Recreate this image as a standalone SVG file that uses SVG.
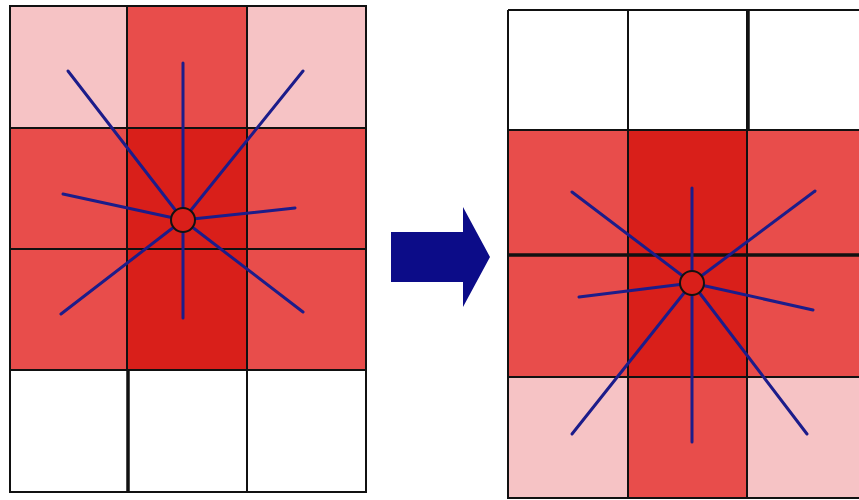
<svg xmlns="http://www.w3.org/2000/svg" width="859" height="500" viewBox="0 0 859 500">
<style>
.pink{fill:#f6c3c5}
.red{fill:#e84d4b}
.dark{fill:#d91f1a}
.white{fill:#ffffff}
.grid{stroke:#111;stroke-width:2;fill:none}
.thick{stroke:#111;stroke-width:3.5;fill:none}
.ray{stroke:#1c1c8a;stroke-width:3;stroke-linecap:round}
.hub{fill:#d91f1a;stroke:#111;stroke-width:2}
</style>
<rect width="859" height="500" fill="#fff"/>
<g id="left-grid">
<rect class="pink" x="10" y="6" width="117" height="122"/>
<rect class="red" x="127" y="6" width="120" height="122"/>
<rect class="pink" x="247" y="6" width="119" height="122"/>
<rect class="red" x="10" y="128" width="117" height="242"/>
<rect class="dark" x="127" y="128" width="120" height="242"/>
<rect class="red" x="247" y="128" width="119" height="242"/>
<rect class="white" x="10" y="370" width="356" height="122"/>
<path class="grid" d="M10 6H366V492H10Z M127 6V370 M247 6V492 M10 128H366 M10 249H366 M10 370H366"/>
<path class="thick" d="M128 370V492"/>
</g>
<g id="left-rays">
<line class="ray" x1="183" y1="220" x2="68" y2="71"/>
<line class="ray" x1="183" y1="220" x2="183" y2="63"/>
<line class="ray" x1="183" y1="220" x2="303" y2="71"/>
<line class="ray" x1="183" y1="220" x2="63" y2="194"/>
<line class="ray" x1="183" y1="220" x2="295" y2="208"/>
<line class="ray" x1="183" y1="220" x2="61" y2="314"/>
<line class="ray" x1="183" y1="220" x2="183" y2="318"/>
<line class="ray" x1="183" y1="220" x2="303" y2="312"/>
<circle class="hub" cx="183" cy="220" r="12"/>
</g>
<g id="arrow">
<polygon points="391,232 463,232 463,207 490,257 463,307 463,282 391,282" fill="#0c0c88"/>
</g>
<g id="right-grid">
<rect class="white" x="508" y="10" width="360" height="120"/>
<rect class="red" x="508" y="130" width="120" height="247"/>
<rect class="dark" x="628" y="130" width="119" height="247"/>
<rect class="red" x="747" y="130" width="121" height="247"/>
<rect class="pink" x="508" y="377" width="120" height="121"/>
<rect class="red" x="628" y="377" width="119" height="121"/>
<rect class="pink" x="747" y="377" width="121" height="121"/>
<path class="grid" d="M508 10H868 M508 10V498H868 M628 10V498 M747 10V498 M508 130H868 M508 377H868"/>
<path class="thick" d="M748 10V130 M508 255H868"/>
</g>
<g id="right-rays">
<line class="ray" x1="692" y1="283" x2="572" y2="192"/>
<line class="ray" x1="692" y1="283" x2="692" y2="188"/>
<line class="ray" x1="692" y1="283" x2="815" y2="191"/>
<line class="ray" x1="692" y1="283" x2="579" y2="297"/>
<line class="ray" x1="692" y1="283" x2="813" y2="310"/>
<line class="ray" x1="692" y1="283" x2="572" y2="434"/>
<line class="ray" x1="692" y1="283" x2="692" y2="442"/>
<line class="ray" x1="692" y1="283" x2="807" y2="434"/>
<circle class="hub" cx="692" cy="283" r="12"/>
</g>
</svg>
